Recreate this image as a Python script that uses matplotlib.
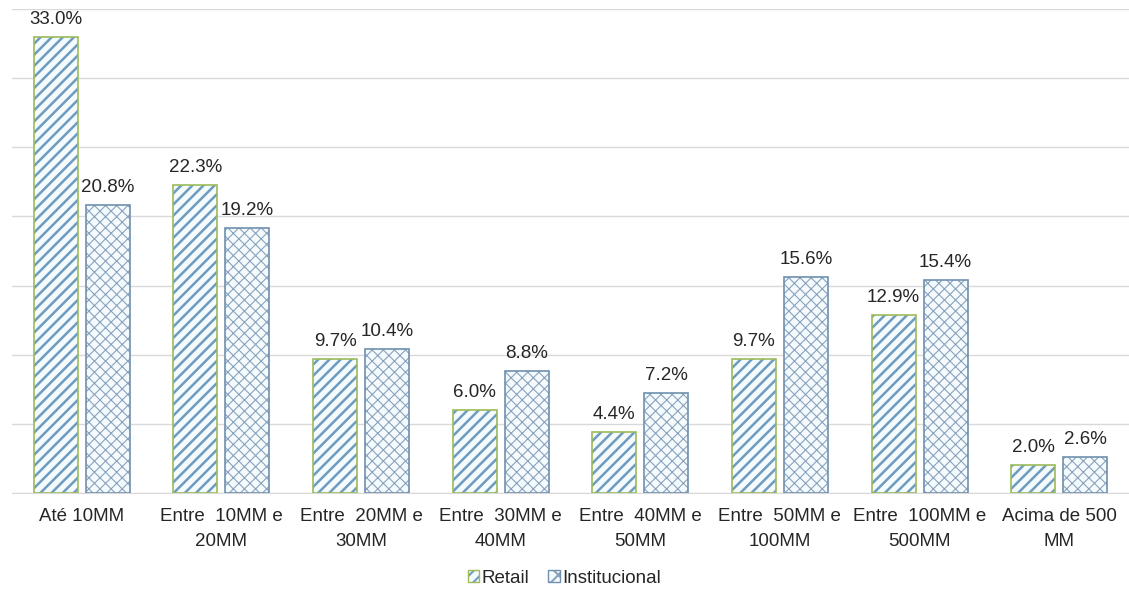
import numpy as np
import matplotlib
matplotlib.use("Agg")
from matplotlib import pyplot as plt
from matplotlib.patches import Patch
from matplotlib.legend_handler import HandlerTuple

categories = ["Até 10MM", "Entre  10MM e\n20MM", "Entre  20MM e\n30MM", "Entre  30MM e\n40MM",
              "Entre  40MM e\n50MM", "Entre  50MM e\n100MM", "Entre  100MM e\n500MM",
              "Acima de 500\nMM"]
retail = [33.0, 22.3, 9.7, 6.0, 4.4, 9.7, 12.9, 2.0]
institucional = [20.8, 19.2, 10.4, 8.8, 7.2, 15.6, 15.4, 2.6]

plt.rcParams['font.family'] = ['Liberation Sans', 'DejaVu Sans']
text_color = '#262626'
stripe = '#6E9CC0'
cross = '#8AA3BD'
face = '#F5FAFD'
green = '#9BBB59'
blue_edge = '#7090AE'

fig = plt.figure(figsize=(11.29, 5.93), dpi=100)
ax = fig.add_axes([0.0106, 0.1686, 0.9894, 0.8162])

x = np.arange(len(categories))
w = 0.315
off = 0.186


def hatched(xs, vals, hatch, hcolor, edge, lw_hatch):
    # hatch follows the edge colour, so draw it first and outline on top
    bars = ax.bar(xs, vals, w, color=face, edgecolor=hcolor, linewidth=0,
                  hatch=hatch, zorder=2)
    for b in bars:
        if hasattr(b, 'set_hatch_linewidth'):
            b.set_hatch_linewidth(lw_hatch)
    ax.bar(xs, vals, w, color='none', edgecolor=edge, linewidth=1.2, zorder=3)
    return bars


plt.rcParams['hatch.linewidth'] = 1.8
hatched(x - off, retail, '///', stripe, green, 1.8)
plt.rcParams['hatch.linewidth'] = 0.8
hatched(x + off, institucional, 'xxx', cross, blue_edge, 0.8)

for xi, v in zip(x - off, retail):
    ax.text(xi, v + 0.65, f"{v:.1f}%", ha='center', va='bottom', fontsize=13.5, color=text_color)
for xi, v in zip(x + off, institucional):
    ax.text(xi, v + 0.65, f"{v:.1f}%", ha='center', va='bottom', fontsize=13.5, color=text_color)

ax.set_xlim(-0.5, len(categories) - 0.5)
ax.set_ylim(0, 35)
ax.set_yticks(np.arange(0, 36, 5))
ax.yaxis.grid(True, color='#D9D9D9', linewidth=1)
ax.set_axisbelow(True)
ax.tick_params(axis='y', left=False, labelleft=False)
ax.tick_params(axis='x', length=0, pad=11)
ax.set_xticks(x)
ax.set_xticklabels(categories, fontsize=13.5, color=text_color, linespacing=1.58)
for s in ['top', 'right', 'left']:
    ax.spines[s].set_visible(False)
ax.spines['bottom'].set_color('#D9D9D9')

plt.rcParams['hatch.linewidth'] = 1.5
retail_h = (Patch(facecolor=face, edgecolor=stripe, hatch='///', linewidth=0),
            Patch(facecolor='none', edgecolor=green, linewidth=1))
inst_h = (Patch(facecolor=face, edgecolor=cross, hatch='xx', linewidth=0),
          Patch(facecolor='none', edgecolor=blue_edge, linewidth=1))
fig.legend(handles=[retail_h, inst_h], labels=['Retail', 'Institucional'],
           handler_map={tuple: HandlerTuple(ndivide=1, pad=0)},
           loc='center', bbox_to_anchor=(0.5, 0.025), ncol=2, frameon=False,
           fontsize=13.5, handlelength=0.6, handleheight=0.6, handletextpad=0.15,
           columnspacing=1.0, labelcolor=text_color)

fig.savefig('out.png', dpi=100)
